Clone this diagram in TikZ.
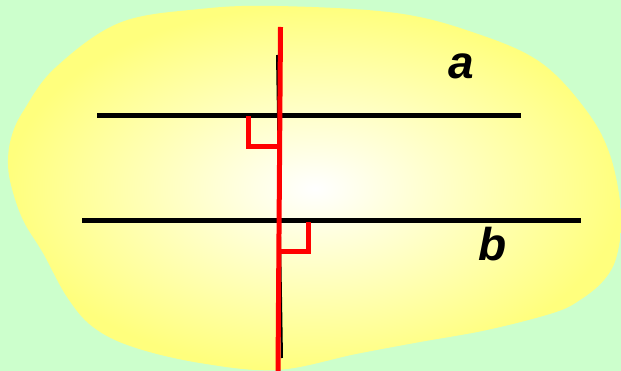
\documentclass[tikz,border=0pt]{standalone}
\usepackage{fontspec}
\setmainfont{Liberation Sans}
\definecolor{bg}{RGB}{204,255,204}
\definecolor{yel}{RGB}{255,255,125}
\definecolor{myred}{RGB}{255,0,0}
\begin{document}
\begin{tikzpicture}[x=1pt,y=-1pt,
  parline/.style={line width=5pt,black},
  thinline/.style={line width=2pt,black},
  redline/.style={line width=5pt,myred},
  rightmark/.style={line width=4.5pt,myred,line join=miter},
  lbl/.style={inner sep=0pt,font=\fontsize{46}{50}\selectfont\bfseries\itshape}]
\fill[bg] (0,0) rectangle (621,371);
\useasboundingbox (0,0) rectangle (621,371);
\shade[inner color=white,outer color=yel] plot[smooth cycle,tension=0.6] coordinates {
  (277,6) (396,13) (475,33) (540,62) (586,110) (610,155) (621,212) (617,255)
  (604,280) (580,300) (553,313) (487,330) (420,342) (356,354) (277,370)
  (200,363) (133,347) (93,327) (67,297) (43,253) (23,220) (11,185) (8,160)
  (12,135) (24,110) (55,68) (119,23) (200,9)};
% parallel lines
\coordinate (a1) at (97,116);
\coordinate (a2) at (521,116);
\coordinate (b1) at (82,221);
\coordinate (b2) at (581,221);
\draw[parline] (a1) -- (a2);
\draw[parline] (b1) -- (b2);
% thin black vertical
\coordinate (k1) at (277,55);
\coordinate (k2) at (282,358);
\draw[thinline] (k1) -- (k2);
% red transversal
\coordinate (r1) at (280.5,27);
\coordinate (r2) at (278,371);
\draw[redline] (r1) -- (r2);
% right angle marks
\coordinate (m1a) at (248.5,116);
\coordinate (m1b) at (248.5,146.5);
\coordinate (m1c) at (280,146.5);
\draw[rightmark] (m1a) -- (m1b) -- (m1c);
\coordinate (m2a) at (279,251.5);
\coordinate (m2b) at (308.5,251.5);
\coordinate (m2c) at (308.5,222);
\draw[rightmark] (m2a) -- (m2b) -- (m2c);
% labels
\node[lbl] (la) at (461,66) {a};
\node[lbl] (lb) at (493,244) {b};
\end{tikzpicture}
\end{document}
